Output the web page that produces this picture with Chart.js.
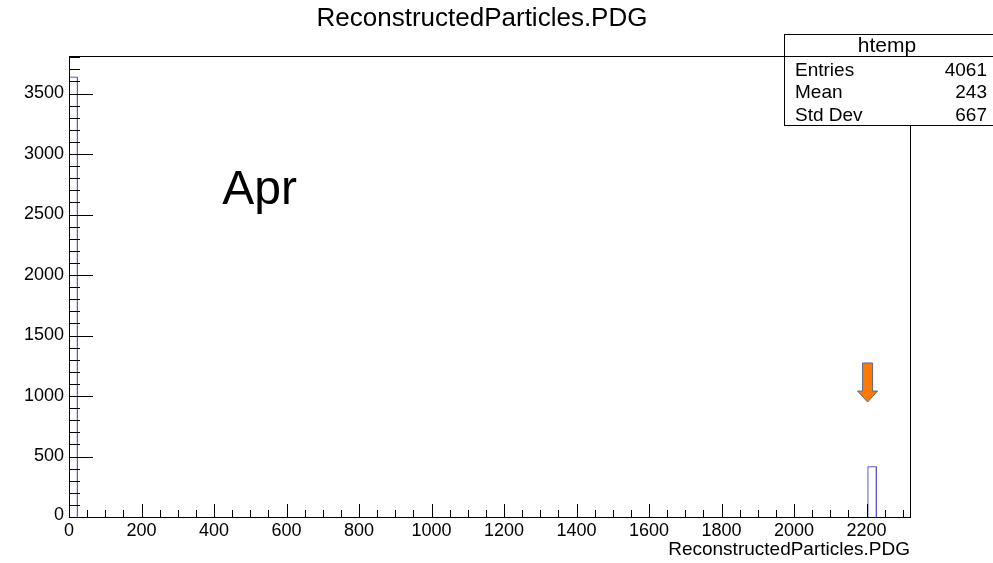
<!DOCTYPE html>
<html>
<head>
<meta charset="utf-8">
<script src="https://cdn.jsdelivr.net/npm/chart.js@4/dist/chart.umd.min.js"></script>
<style>
  html, body { margin: 0; padding: 0; background: #fff; }
  canvas { display: block; }
</style>
</head>
<body>
<canvas id="c" width="993" height="563"></canvas>
<script>
// ROOT-style histogram of ReconstructedParticles.PDG, outline only, drawn with Chart.js.

const binLow = [0, 2204];
const binWidth = 23.2;
const counts = [3635, 415];

const xTickLabels = [0, 200, 400, 600, 800, 1000, 1200, 1400, 1600, 1800, 2000, 2200];
const yTickLabels = [0, 500, 1000, 1500, 2000, 2500, 3000, 3500];

const statsTitle = 'htemp';
const statsLabels = ['Entries', 'Mean', 'Std Dev'];
const statsValues = ['4061', '243', '667'];

const X_MAX = 2320;
const Y_MAX = 3810;

// arrow annotation in data coordinates (x, y top of shaft, y of head base, y of tip)
const arrow = { x: 2203, yTop: 1273, yHead: 1041, yTip: 950 };
const labelText = 'Apr';
const labelPos = { x: 423, y: 2590 };

const FONT = "'Liberation Sans', Arial, Helvetica, sans-serif";

// step outline of the histogram, from bin edges and counts (gaps along the baseline)
const outline = [];
binLow.forEach((lo, i) => {
    outline.push({ x: lo, y: 0 });
    outline.push({ x: lo, y: counts[i] });
    outline.push({ x: lo + binWidth, y: counts[i] });
    outline.push({ x: lo + binWidth, y: 0 });
    outline.push({ x: lo + binWidth, y: null });
});

const rootFrame = {
    id: 'rootFrame',
    beforeDraw(chart) {
        const c = chart.ctx;
        c.save();
        c.fillStyle = '#fff';
        c.fillRect(0, 0, chart.width, chart.height);
        c.restore();
    },
    afterDatasetsDraw(chart) {
        const c = chart.ctx;
        const { left, right, top, bottom } = chart.chartArea;
        const xs = chart.scales.x, ys = chart.scales.y;
        c.save();
        c.strokeStyle = '#000';
        c.lineWidth = 1;
        c.strokeRect(Math.round(left) + 0.5, Math.round(top) + 0.5, Math.round(right - left), Math.round(bottom - top));

        c.beginPath();
        for (let v = 0; v <= Y_MAX; v += 100) {
            const y = Math.round(ys.getPixelForValue(v)) + 0.5;
            const len = v % 500 === 0 ? 24 : 11;
            c.moveTo(left, y);
            c.lineTo(left + len, y);
        }
        for (let v = 0; v <= X_MAX; v += 50) {
            const x = Math.round(xs.getPixelForValue(v)) + 0.5;
            const len = v % 200 === 0 ? 13 : 7;
            c.moveTo(x, bottom);
            c.lineTo(x, bottom - len);
        }
        c.stroke();

        c.fillStyle = '#000';
        c.font = '18px ' + FONT;
        c.textAlign = 'right';
        c.textBaseline = 'middle';
        yTickLabels.forEach(v => c.fillText(String(v), left - 5, ys.getPixelForValue(v) - (v === 0 ? 2 : 0)));
        c.textAlign = 'center';
        c.textBaseline = 'top';
        xTickLabels.forEach(v => c.fillText(String(v), xs.getPixelForValue(v), bottom + 5));

        c.font = '19px ' + FONT;
        c.textAlign = 'right';
        c.textBaseline = 'middle';
        c.fillText('ReconstructedParticles.PDG', right, 550);
        c.restore();
    },
    afterDraw(chart) {
        const c = chart.ctx;
        const xs = chart.scales.x, ys = chart.scales.y;
        c.save();

        // title
        c.fillStyle = '#000';
        c.font = '26px ' + FONT;
        c.textAlign = 'center';
        c.textBaseline = 'middle';
        c.fillText('ReconstructedParticles.PDG', 482, 19);

        // big label
        c.font = '48px ' + FONT;
        c.textAlign = 'left';
        c.textBaseline = 'alphabetic';
        c.fillText(labelText, xs.getPixelForValue(labelPos.x), ys.getPixelForValue(labelPos.y));

        // arrow
        const ax = xs.getPixelForValue(arrow.x);
        const yT = ys.getPixelForValue(arrow.yTop);
        const yH = ys.getPixelForValue(arrow.yHead);
        const yP = ys.getPixelForValue(arrow.yTip);
        c.beginPath();
        c.moveTo(ax - 5, yT);
        c.lineTo(ax + 5, yT);
        c.lineTo(ax + 5, yH);
        c.lineTo(ax + 10, yH);
        c.lineTo(ax, yP);
        c.lineTo(ax - 10, yH);
        c.lineTo(ax - 5, yH);
        c.closePath();
        c.fillStyle = '#ff7a00';
        c.fill();
        c.strokeStyle = '#5a6a8a';
        c.lineWidth = 1;
        c.stroke();

        // stats box
        const bx = 784.5, by = 34.5, bw = 210, bh = 91;
        c.fillStyle = '#fff';
        c.fillRect(bx, by, bw, bh);
        c.strokeStyle = '#000';
        c.strokeRect(bx, by, bw, bh);
        c.beginPath();
        c.moveTo(bx, 56.5);
        c.lineTo(bx + bw, 56.5);
        c.stroke();
        c.fillStyle = '#000';
        c.font = '21px ' + FONT;
        c.textAlign = 'center';
        c.textBaseline = 'middle';
        c.fillText(statsTitle, 887, 46);
        c.font = '19px ' + FONT;
        const rows = [71, 93, 116];
        statsLabels.forEach((l, i) => {
            c.textAlign = 'left';
            c.fillText(l, 795, rows[i]);
            c.textAlign = 'right';
            c.fillText(statsValues[i], 987, rows[i]);
        });
        c.restore();
    },
};

new Chart(document.getElementById('c'), {
    type: 'line',
    data: {
        datasets: [{
            data: outline,
            borderColor: '#5a5acf',
            borderWidth: 1,
            pointRadius: 0,
            fill: false,
            tension: 0,
            spanGaps: false,
        }],
    },
    options: {
        responsive: false,
        animation: false,
        devicePixelRatio: 1,
        layout: { padding: { left: 69, top: 56, right: 83, bottom: 46 } },
        plugins: { legend: { display: false }, tooltip: { enabled: false } },
        scales: {
            x: { type: 'linear', min: 0, max: X_MAX, display: false },
            y: { type: 'linear', min: 0, max: Y_MAX, display: false },
        },
    },
    plugins: [rootFrame],
});
</script>
</body>
</html>
